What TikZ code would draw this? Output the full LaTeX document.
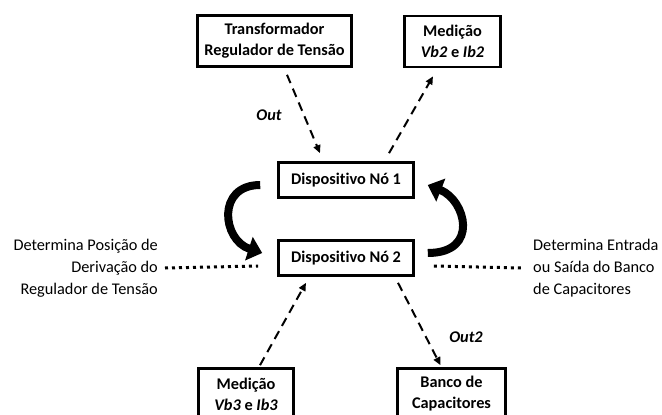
\documentclass[tikz,border=0pt]{standalone}
\usepackage{fontspec}
\setmainfont[Ligatures=NoCommon]{Carlito}
\usetikzlibrary{arrows.meta,calc,positioning}
\newcommand{\diagfont}{\fontsize{16.3}{21}\selectfont}
\tikzset{
  block box/.style={draw,line width=2.6pt,align=center,font=\diagfont\bfseries,inner sep=2pt},
  flow edge/.style={line width=2pt,dash pattern=on 9pt off 6pt,-{Triangle[length=8pt,width=7pt]}},
  link dots/.style={line width=3pt,dash pattern=on 3pt off 4pt},
  swap arrow/.style={line width=8pt,-{Triangle[length=14pt,width=24pt]}},
  side label/.style={font=\fontsize{16.3}{22}\selectfont,inner sep=0pt},
  flow label/.style={font=\diagfont\bfseries\itshape,inner sep=1pt}
}

\begin{document}
\begin{tikzpicture}[x=1pt,y=-1pt,line join=miter]
  \useasboundingbox (0,0) rectangle (662,415);

  \node[block box,minimum width=154pt,minimum height=51pt] (trafo) at (274.5,41) {Transformador\\Regulador de Tensão};
  \node[block box,minimum width=96pt,minimum height=51pt] (med2) at (452.5,41.5) {Medição\\\textit{Vb2} e \textit{Ib2}};
  \node[block box,minimum width=135pt,minimum height=35pt] (no1) at (346,180) {Dispositivo Nó 1};
  \node[block box,minimum width=135pt,minimum height=35pt] (no2) at (346,258) {Dispositivo Nó 2};
  \node[block box,minimum width=95pt,minimum height=51pt] (med3) at (246,394) {Medição\\\textit{Vb3} e \textit{Ib3}};
  \node[block box,minimum width=108pt,minimum height=51pt] (banco) at (451.5,394) {Banco de\\Capacitores};

  \node[side label,align=right,anchor=east] (tapinfo) at (158,268) {Determina Posição de\\Derivação do\\Regulador de Tensão};
  \node[side label,align=left,anchor=west] (capinfo) at (533,268) {Determina Entrada\\ou Saída do Banco\\de Capacitores};

  \draw[flow edge] ([xshift=12.5pt,yshift=-7pt]trafo.south) -- ([xshift=-26pt,yshift=8pt]no1.north);
  \draw[flow edge] ([xshift=43pt,yshift=8pt]no1.north) -- ([xshift=-19.5pt,yshift=-8pt]med2.south);
  \draw[flow edge] ([xshift=14pt,yshift=2pt]med3.north) -- ([xshift=-40pt,yshift=-6pt]no2.south);
  \draw[flow edge] ([xshift=52pt,yshift=-6pt]no2.south) -- ([xshift=-11pt,yshift=2pt]banco.north);
  \node[flow label] (outlbl) at (269,115) {Out};
  \node[flow label] (out2lbl) at (466,337) {Out2};

  \draw[swap arrow] ([xshift=-17pt,yshift=-5pt]no1.west) .. controls +(-44,0) and +(-40,-13) .. ([xshift=-15pt,yshift=5pt]no2.west);
  \draw[swap arrow] ([xshift=13pt,yshift=5pt]no2.east) .. controls +(52,0) and +(38,15) .. ([xshift=13pt,yshift=-5pt]no1.east);

  \draw[link dots] ([xshift=7pt]tapinfo.east) -- ([xshift=-19pt,yshift=-8pt]no2.west);
  \draw[link dots] ([xshift=19pt,yshift=-8pt]no2.east) -- ([xshift=-11pt]capinfo.west);
\end{tikzpicture}
\end{document}
